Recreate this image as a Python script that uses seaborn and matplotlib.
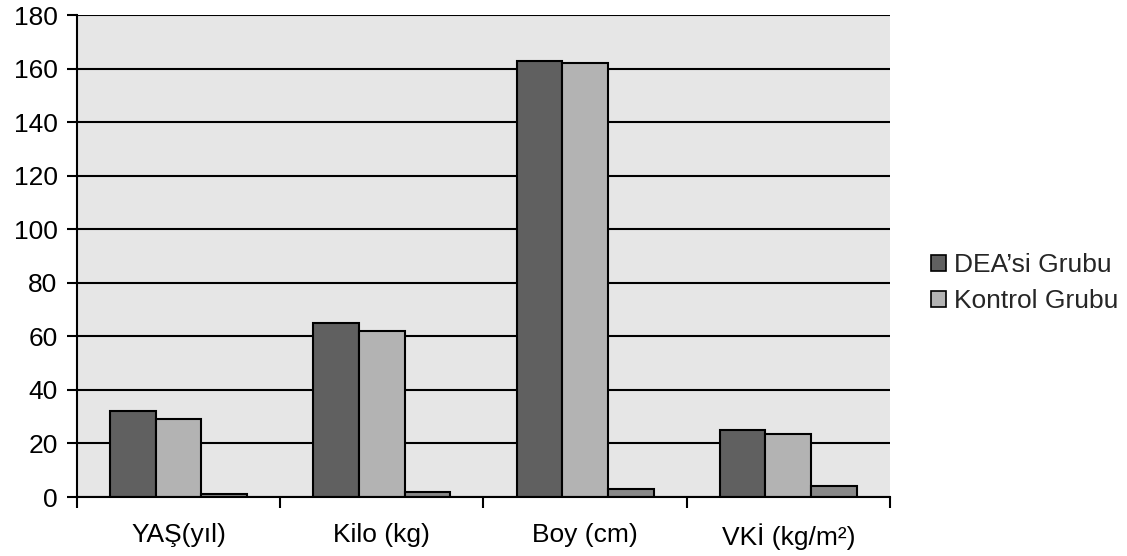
import matplotlib
matplotlib.use("Agg")
import matplotlib.pyplot as plt
import seaborn as sns
import pandas as pd
from matplotlib.patches import Patch

categories = ["YAŞ(yıl)", "Kilo (kg)", "Boy (cm)", "VKİ (kg/m²)"]
groups = ["DEA’si Grubu", "Kontrol Grubu", "Ek"]
dea = [32, 65, 163, 25]
kontrol = [29, 62, 162, 23.5]
ek = [1, 2, 3, 4]
y_ticks = [0, 20, 40, 60, 80, 100, 120, 140, 160, 180]

rows = []
for g, vals in zip(groups, [dea, kontrol, ek]):
    for c, v in zip(categories, vals):
        rows.append({"Kategori": c, "Grup": g, "Değer": v})
df = pd.DataFrame(rows)

sns.set_theme(style="white")
plt.rcParams["font.family"] = ["Liberation Sans", "DejaVu Sans"]

colors = {"DEA’si Grubu": "#606060", "Kontrol Grubu": "#b3b3b3", "Ek": "#888888"}

fig = plt.figure(figsize=(11.27, 5.56), dpi=100)
ax = fig.add_axes([0.0683, 0.1061, 0.7214, 0.8669])
ax.set_facecolor("#e6e6e6")

sns.barplot(data=df, x="Kategori", y="Değer", hue="Grup", hue_order=groups,
            order=categories, palette=colors, width=0.675, gap=0,
            edgecolor="black", linewidth=1.5, saturation=1, legend=False, ax=ax)

ax.set_xlim(-0.5, len(categories) - 0.5)
ax.set_ylim(0, 180)
ax.set_yticks(y_ticks)
ax.set_axisbelow(True)
ax.yaxis.grid(True, color="black", linewidth=1.5)
ax.xaxis.grid(False)

for side in ["top", "right"]:
    ax.spines[side].set_visible(False)
for side in ["left", "bottom"]:
    ax.spines[side].set_color("black")
    ax.spines[side].set_linewidth(1.5)

# category labels at centres, ticks at the boundaries between categories
ax.set_xticks(range(len(categories)))
ax.set_xticklabels(categories)
ax.set_xticks([i - 0.5 for i in range(len(categories) + 1)], minor=True)
ax.tick_params(axis="x", which="major", length=0, pad=19, labelsize=19, colors="black")
ax.tick_params(axis="x", which="minor", length=8, width=1.5, color="black", direction="out", bottom=True)
ax.tick_params(axis="y", length=7, width=1.5, color="black", direction="out", left=True,
               labelsize=19, pad=7, colors="black")
ax.set_xlabel("")
ax.set_ylabel("")

handles = [Patch(facecolor=colors[g], edgecolor="black", linewidth=1.2, label=g) for g in groups[:2]]
fig.legend(handles=handles, loc="center left", bbox_to_anchor=(0.817, 0.491),
           frameon=False, fontsize=19, handlelength=0.55, handleheight=0.55,
           handletextpad=0.3, labelspacing=0.45, borderaxespad=0)

fig.savefig("out.png", dpi=100)
